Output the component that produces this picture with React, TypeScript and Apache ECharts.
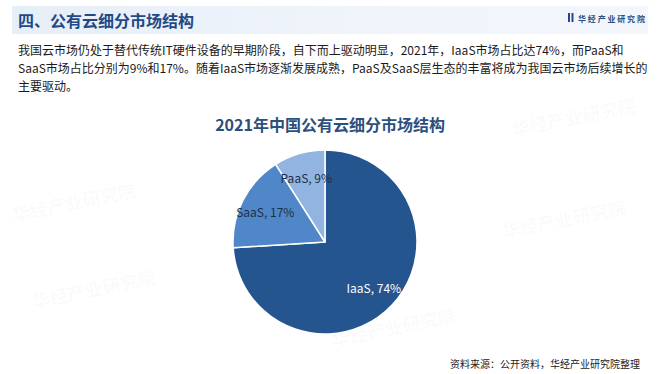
import React, { useEffect, useRef } from "react";
import * as echarts from "echarts";

const categories = ["IaaS", "SaaS", "PaaS"];
const shares = [74, 17, 9];
const sliceColors = ["#24558f", "#4f87c8", "#92b4e0"];
const labelColors = ["#ffffff", "#1e2f45", "#1e2f45"];

const pageTitle = "四、公有云细分市场结构";
const brand = "华经产业研究院";
const paragraph = [
  "我国云市场仍处于替代传统IT硬件设备的早期阶段，自下而上驱动明显，2021年，IaaS市场占比达74%，而PaaS和",
  "SaaS市场占比分别为9%和17%。随着IaaS市场逐渐发展成熟，PaaS及SaaS层生态的丰富将成为我国云市场后续增长的",
  "主要驱动。",
];
const chartTitle = "2021年中国公有云细分市场结构";
const source = "资料来源：公开资料，华经产业研究院整理";

const FONT = "'Noto Sans CJK SC', 'Noto Sans', sans-serif";

export default function App() {
  const ref = useRef<HTMLDivElement>(null);
  useEffect(() => {
    const chart = echarts.init(ref.current!, null, { renderer: "svg" });
    const data = categories.map((c, i) => ({
      name: c,
      value: shares[i],
      itemStyle: { color: sliceColors[i] },
    }));
    const labelData = categories.map((c, i) => ({
      name: c,
      value: shares[i],
      label: { color: labelColors[i] },
    }));
    const watermarks = [
      { x: 215, y: 62 },
      { x: 510, y: 120 },
      { x: 10, y: 205 },
      { x: 500, y: 222 },
      { x: 30, y: 292 },
      { x: 330, y: 330 },
    ].map((p) => ({
      type: "text",
      x: p.x,
      y: p.y,
      rotation: 0.2,
      silent: true,
      style: {
        text: brand,
        font: `bold 18px ${FONT}`,
        fill: "rgba(160,175,200,0.06)",
      },
    }));
    chart.setOption({
      animation: false,
      backgroundColor: "#ffffff",
      graphic: [
        {
          type: "rect",
          shape: { x: 12, y: 6, width: 636, height: 28 },
          style: {
            fill: new echarts.graphic.LinearGradient(0, 0, 1, 0, [
              { offset: 0, color: "#e6eef8" },
              { offset: 0.6, color: "#f1f5fb" },
              { offset: 1, color: "#f3f6fb" },
            ]),
          },
          silent: true,
        },
        {
          type: "text",
          x: 18,
          y: 20,
          style: {
            text: pageTitle,
            font: `bold 16px ${FONT}`,
            fill: "#1f4a86",
            textVerticalAlign: "middle",
          },
        },
        {
          type: "rect",
          shape: { x: 568, y: 13, width: 2, height: 9 },
          style: { fill: "#1f4a86" },
        },
        {
          type: "rect",
          shape: { x: 571.5, y: 13, width: 2, height: 9 },
          style: { fill: "#1f4a86" },
        },
        {
          type: "text",
          x: 578,
          y: 18,
          style: {
            text: brand.split("").join(" "),
            font: `bold 8px ${FONT}`,
            fill: "#2a4f86",
            textVerticalAlign: "middle",
          },
        },
        ...paragraph.map((line, i) => ({
          type: "text",
          x: 18,
          y: 49 + i * 18,
          style: {
            text: line,
            font: `12px ${FONT}`,
            fill: "#1a1a1a",
            textVerticalAlign: "middle",
          },
        })),
        {
          type: "text",
          x: 330,
          y: 124,
          style: {
            text: chartTitle,
            font: `bold 16px ${FONT}`,
            fill: "#2d4f7c",
            textAlign: "center",
            textVerticalAlign: "middle",
          },
        },
        {
          type: "text",
          x: 640,
          y: 363,
          style: {
            text: source,
            font: `10px ${FONT}`,
            fill: "#222",
            textAlign: "right",
            textVerticalAlign: "middle",
          },
        },
        ...watermarks,
      ],
      series: [
        {
          type: "pie",
          center: [325, 242],
          radius: 92,
          startAngle: 90,
          clockwise: true,
          silent: true,
          label: { show: false },
          labelLine: { show: false },
          itemStyle: { borderColor: "#ffffff", borderWidth: 1.5 },
          data,
        },
        {
          type: "pie",
          center: [325, 242],
          radius: [36, 92],
          startAngle: 90,
          clockwise: true,
          silent: true,
          itemStyle: { color: "rgba(0,0,0,0)" },
          label: {
            show: true,
            position: "inside",
            formatter: "{b}, {c}%",
            fontFamily: FONT,
            fontSize: 12,
          },
          labelLine: { show: false },
          data: labelData,
        },
      ],
    });
    return () => chart.dispose();
  }, []);
  return <div ref={ref} style={{ width: 660, height: 374, position: "absolute", left: 0, top: 0 }} />;
}
